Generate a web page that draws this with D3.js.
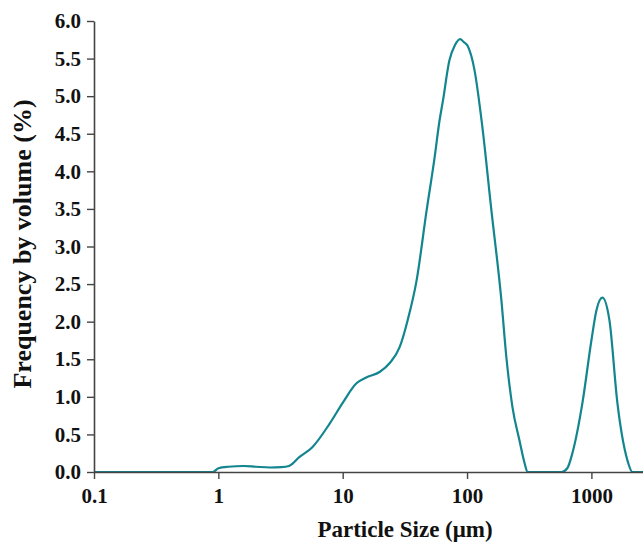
<!DOCTYPE html>
<html>
<head>
<meta charset="utf-8">
<script src="https://cdn.jsdelivr.net/npm/d3@7"></script>
<style>
  body { margin: 0; background: #fff; }
  svg { display: block; }
  text { font-family: "Liberation Serif", "Times New Roman", serif; font-weight: bold; fill: #111; }
</style>
</head>
<body>
<svg id="chart"></svg>
<script>
// particle size (um) and frequency by volume (%)
var sizes = [0.1, 0.9, 1.0, 1.2, 1.6, 2.0, 2.6, 3.2, 3.7, 4.5, 5.7, 7.9, 10, 12.9, 15.6, 19.8, 23.9, 28.7, 33.3, 39.3,
  47.3, 55, 60, 64, 72, 80, 88, 94, 101, 115, 131, 157, 189, 207, 232, 264, 290, 306,
  575, 640, 703, 847, 1000, 1097, 1225, 1396, 1618, 1945, 2137, 2600];
var freq = [0, 0, 0.05, 0.07, 0.08, 0.07, 0.06, 0.065, 0.08, 0.2, 0.33, 0.65, 0.92, 1.18, 1.26, 1.33, 1.45, 1.66, 2.02, 2.55,
  3.48, 4.2, 4.67, 4.94, 5.47, 5.68, 5.76, 5.72, 5.67, 5.34, 4.67, 3.48, 2.28, 1.53, 0.86, 0.42, 0.12, 0,
  0, 0.05, 0.25, 0.92, 1.75, 2.15, 2.32, 2.02, 0.92, 0.16, 0, 0];
var xTicks = [0.1, 1, 10, 100, 1000];
var yTicks = [0, 0.5, 1, 1.5, 2, 2.5, 3, 3.5, 4, 4.5, 5, 5.5, 6];

var width = 643, height = 542;
var svg = d3.select('#chart').attr('width', width).attr('height', height);

var x = d3.scaleLog().domain([0.1, 2600]).range([94, 643]);
var y = d3.scaleLinear().domain([0, 6]).range([472, 21]);

var pts = sizes.map(function (s, i) { return [s, freq[i]]; });

var line = d3.line()
  .x(function (d) { return x(d[0]); })
  .y(function (d) { return y(d[1]); })
  .curve(d3.curveMonotoneX);

svg.append('path')
  .datum(pts)
  .attr('d', line)
  .attr('fill', 'none')
  .attr('stroke', '#12858f')
  .attr('stroke-width', 2.2)
  .attr('stroke-linejoin', 'round');

// axes
var gx = svg.append('g')
  .attr('transform', 'translate(0,' + y(0) + ')')
  .call(d3.axisBottom(x).tickValues(xTicks).tickFormat(d3.format('')).tickSize(7).tickSizeOuter(0).tickPadding(9));
var gy = svg.append('g')
  .attr('transform', 'translate(' + x(0.1) + ',0)')
  .call(d3.axisLeft(y).tickValues(yTicks).tickFormat(d3.format('.1f')).tickSize(7).tickSizeOuter(0).tickPadding(6));

[gx, gy].forEach(function (g) {
  g.selectAll('path.domain').attr('stroke', '#444').attr('stroke-width', 1.6);
  g.selectAll('.tick line').attr('stroke', '#444').attr('stroke-width', 1.4);
  g.selectAll('.tick text')
    .attr('font-family', '"Liberation Serif", "Times New Roman", serif')
    .attr('font-weight', 'bold')
    .attr('font-size', 21)
    .attr('fill', '#111');
});

// axis titles
svg.append('text')
  .attr('x', 405)
  .attr('y', 537)
  .attr('text-anchor', 'middle')
  .attr('font-size', 23)
  .text('Particle Size (\u03bcm)');

svg.append('text')
  .attr('transform', 'translate(31,244) rotate(-90)')
  .attr('text-anchor', 'middle')
  .attr('font-size', 26)
  .text('Frequency by volume (%)');
</script>
</body>
</html>
